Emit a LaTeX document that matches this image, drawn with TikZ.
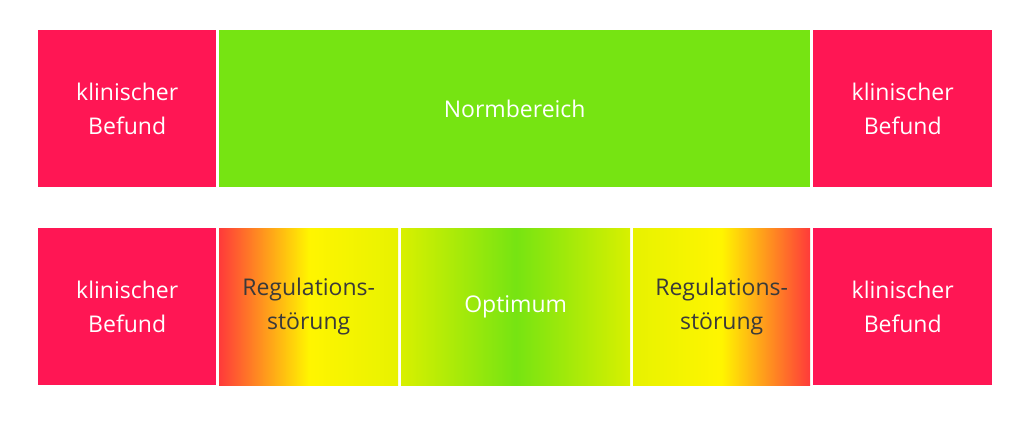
\documentclass[tikz,border=0pt]{standalone}
\usepackage{fontspec}
\setmainfont{Open Sans}
\definecolor{befund}{HTML}{FF1654}
\definecolor{norm}{HTML}{76E412}
\definecolor{gelb}{HTML}{FFF500}
\definecolor{orangerot}{HTML}{FF3A3A}
\definecolor{gelbgruen}{HTML}{D8F000}
\definecolor{schrift}{HTML}{3A3A3A}
\begin{document}
\begin{tikzpicture}[x=1pt, y=-1pt,
  feld/.style={rectangle, anchor=north west, minimum height=157pt, inner sep=0pt,
    align=center, font=\fontsize{23}{34}\selectfont, text=white},
  rot/.style={feld, fill=befund},
  gruen/.style={feld, fill=norm}
]
\useasboundingbox[fill=white] (0,0) rectangle (1024,421);

% ---------- oben ----------
\node[rot, minimum width=178pt] (befundL) at (38,30) {klinischer\\Befund};
\node[gruen, minimum width=591pt, text depth=-6pt] (norm) at (219,30) {Normbereich};
\node[rot, minimum width=179pt] (befundR) at (813,30) {klinischer\\Befund};

% ---------- unten ----------
\node[rot, minimum width=178pt] (befundLu) at (38,228) {klinischer\\Befund};
\node[feld, minimum width=179pt, text=schrift, left color=orangerot, right color=gelbgruen!60!gelb, middle color=gelb] (regL) at (219,228) {Regulations-\\störung};
\node[feld, minimum width=229pt, left color=gelbgruen, right color=gelbgruen, middle color=norm] (optimum) at (401,228) {Optimum};
\node[feld, minimum width=177pt, text=schrift, left color=gelbgruen!60!gelb, right color=orangerot, middle color=gelb] (regR) at (633,228) {Regulations-\\störung};
\node[rot, minimum width=179pt] (befundRu) at (813,228) {klinischer\\Befund};
\end{tikzpicture}
\end{document}
